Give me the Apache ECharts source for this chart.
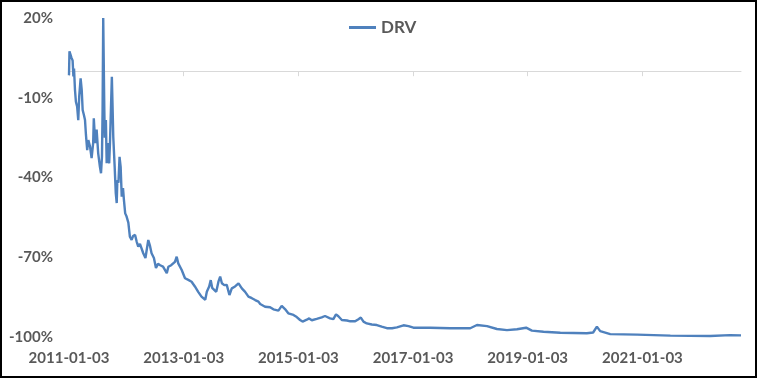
<!DOCTYPE html>
<html>
<head>
<meta charset="utf-8">
<script src="https://cdn.jsdelivr.net/npm/echarts@6/dist/echarts.min.js"></script>
<style>
html,body{margin:0;padding:0;background:#fff;}
#chart{width:758px;height:380px;}
</style>
</head>
<body>
<div id="chart"></div>
<script>
const seriesName = 'DRV';
const dates = [
'2011-01-03','2011-01-06','2011-01-12','2011-01-19','2011-01-26','2011-01-31','2011-02-04','2011-02-10','2011-02-16','2011-02-24',
'2011-03-03','2011-03-09','2011-03-18','2011-03-25','2011-03-31','2011-04-08','2011-04-15','2011-04-21','2011-04-29','2011-05-06',
'2011-05-17','2011-05-27','2011-06-06','2011-06-10','2011-06-19','2011-06-28','2011-07-08','2011-07-19','2011-07-26','2011-08-01',
'2011-08-05','2011-08-09','2011-08-16','2011-08-19','2011-08-26','2011-08-31','2011-09-09','2011-09-16','2011-09-21','2011-09-27',
'2011-10-03','2011-10-07','2011-10-12','2011-10-21','2011-10-28','2011-11-03','2011-11-07','2011-11-14','2011-11-21','2011-11-28',
'2011-12-05','2011-12-13','2011-12-19','2011-12-27','2012-01-05','2012-01-16','2012-01-26','2012-02-06','2012-02-15','2012-02-28',
'2012-03-09','2012-03-19','2012-03-30','2012-04-10','2012-04-20','2012-05-04','2012-05-22','2012-06-01','2012-06-12','2012-06-27',
'2012-07-10','2012-07-23','2012-08-06','2012-08-24','2012-09-17','2012-09-27','2012-10-15','2012-10-26','2012-11-08','2012-11-19',
'2012-11-29','2012-12-21','2013-01-11','2013-02-01','2013-02-22','2013-03-15','2013-04-05','2013-04-26','2013-05-20','2013-05-30',
'2013-06-14','2013-06-24','2013-07-03','2013-07-15','2013-07-29','2013-08-12','2013-08-23','2013-09-03','2013-09-18','2013-10-04',
'2013-10-21','2013-11-05','2013-11-26','2013-12-18','2014-01-08','2014-01-29','2014-02-19','2014-03-13','2014-03-24','2014-04-03',
'2014-04-14','2014-04-24','2014-05-05','2014-06-05','2014-07-07','2014-07-28','2014-08-29','2014-09-19','2014-10-10','2014-10-31',
'2014-12-03','2014-12-24','2015-01-14','2015-01-30','2015-02-26','2015-03-13','2015-03-30','2015-04-30','2015-06-01','2015-06-22',
'2015-07-24','2015-08-14','2015-08-31','2015-09-15','2015-10-07','2015-11-09','2015-11-30','2015-12-31','2016-01-21','2016-02-05',
'2016-02-22','2016-03-14','2016-04-15','2016-05-17','2016-06-17','2016-07-20','2016-08-22','2016-09-22','2016-11-03','2016-12-05',
'2017-01-05','2017-02-05','2017-04-22','2017-08-28','2018-01-02','2018-02-14','2018-04-19','2018-06-21','2018-08-24','2018-10-27',
'2018-12-24','2019-01-30','2019-04-14','2019-07-30','2020-01-15','2020-02-24','2020-03-19','2020-04-09','2020-06-12','2020-11-30',
'2021-06-30','2022-03-11','2022-07-15','2022-09-23'
];
const values = [
-1.5,7.5,8.2,5,4,-2,1,-7,-11.5,-13.4,
-18.4,-9.6,-2.7,-7,-14.6,-16.5,-18.4,-24,-29.7,-25.9,
-28.4,-32.7,-27,-17.7,-27.1,-22,-30.9,-36,-38.4,-32.2,
-14.6,20,-14.6,-25,-18.4,-34.6,-27,-34.7,-27.1,-14.6,
-2.1,-12,-24.7,-36,-45.9,-49.6,-41,-42,-32.2,-36,
-47.2,-44,-48.5,-53.5,-54.7,-57,-62.3,-63.5,-62,-61.6,
-64.1,-66,-65,-64.5,-68.5,-70.3,-63.5,-65.5,-68.5,-70.3,
-74,-72.5,-73,-73.5,-76,-73.6,-73,-73.5,-71.7,-69.8,
-72.3,-74.8,-77.9,-78.5,-79.2,-81,-83,-84.8,-86,-83,
-81,-78.6,-81.5,-81,-83,-79.2,-77.3,-79.8,-80.5,-80.4,
-84.2,-81.7,-81,-79.8,-81.7,-83,-84.8,-85.4,-85.6,-86.1,
-86.5,-86.7,-87.6,-88.6,-88.8,-89.6,-90.1,-88.3,-89.5,-91.1,
-91.7,-92.5,-93.6,-94.2,-93.5,-93,-93.7,-93.2,-92.6,-92.1,
-93,-93.3,-91.5,-92.2,-93.6,-93.8,-94.1,-94.1,-93.3,-92.7,
-94.2,-94.9,-95.3,-95.5,-96.1,-96.7,-96.7,-96.4,-95.6,-95.9,
-96.5,-96.5,-96.5,-96.7,-96.7,-95.5,-95.9,-97,-97.4,-97.1,
-96.5,-97.6,-98,-98.4,-98.6,-98.3,-96.1,-97.8,-98.9,-99.1,
-99.5,-99.6,-99.3,-99.4
];
const tickLabels = ['2011-01-03','2013-01-03','2015-01-03','2017-01-03','2019-01-03','2021-01-03'];
const yTicks = [-100,-70,-40,-10,20];

const DAY = 86400000;
const origin = Date.parse(tickLabels[0]);
const toDay = s => (Date.parse(s) - origin) / DAY;
const seriesData = dates.map((d, i) => [toDay(d), values[i]]);
const tickDays = tickLabels.map(toDay);
const xMax = toDay(dates[dates.length - 1]);

const labelColor = '#595959';
const fontFamily = 'Lato, "Liberation Sans", sans-serif';

const chart = echarts.init(document.getElementById('chart'), null, {renderer: 'canvas'});
chart.setOption({
  animation: false,
  backgroundColor: '#fff',
  graphic: [{
    type: 'rect', silent: true, z: 100,
    shape: {x: 1, y: 1, width: 755, height: 376},
    style: {fill: 'none', stroke: '#000', lineWidth: 2}
  }],
  legend: {
    data: [seriesName],
    left: 344, top: 14,
    icon: 'rect', itemWidth: 27, itemHeight: 3,
    textStyle: {fontSize: 17, fontWeight: 'bold', color: labelColor, fontFamily: fontFamily}
  },
  grid: {left: 69, right: 17, top: 18, bottom: 43, containLabel: false, outerBoundsMode: 'none'},
  xAxis: [{
    type: 'value', min: 0, max: xMax, interval: 730.5, position: 'bottom',
    axisLine: {show: false, onZero: false},
    axisTick: {show: false},
    splitLine: {show: false},
    axisLabel: {
      customValues: tickDays,
      margin: 14, fontSize: 15, fontWeight: 'bold', color: labelColor, fontFamily: fontFamily,
      formatter: v => { for (let i = 0; i < tickDays.length; i++) { if (Math.abs(tickDays[i] - v) < 2) return tickLabels[i]; } return ''; }
    }
  }, {
    type: 'value', min: 0, max: xMax, interval: 730.5, position: 'bottom',
    axisLine: {show: true, onZero: true, lineStyle: {color: '#d9d9d9', width: 1}},
    axisTick: {show: true, customValues: tickDays, length: 5, lineStyle: {color: '#d9d9d9', width: 1}},
    axisLabel: {show: false},
    splitLine: {show: false}
  }],
  yAxis: {
    type: 'value', min: -100, max: 20, interval: 10,
    axisLine: {show: false}, axisTick: {show: false}, splitLine: {show: false},
    axisLabel: {
      margin: 16, fontSize: 15, fontWeight: 'bold', color: labelColor, fontFamily: fontFamily,
      formatter: v => (yTicks.indexOf(Math.round(v)) >= 0 ? Math.round(v) + '%' : '')
    }
  },
  series: [{
    name: seriesName, type: 'line', xAxisIndex: 0, data: seriesData,
    showSymbol: false, symbol: 'none',
    color: '#4F81BD',
    lineStyle: {color: '#4F81BD', width: 2.4}
  }]
});
</script>
</body>
</html>
